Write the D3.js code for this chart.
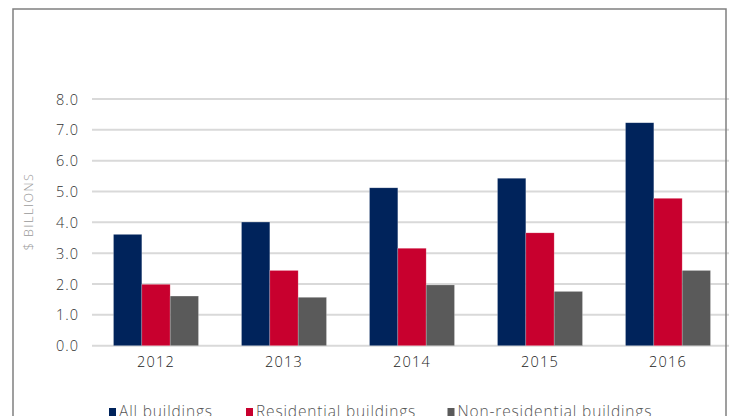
<!DOCTYPE html>
<html><head><meta charset="utf-8">
<script src="https://cdn.jsdelivr.net/npm/d3@7"></script>
<style>html,body{margin:0;padding:0;background:#fff;overflow:hidden}</style>
</head><body>
<svg id="c" width="729" height="416"></svg>
<script>
const years = ["2012","2013","2014","2015","2016"];
const seriesNames = ["All buildings","Residential buildings","Non-residential buildings"];
const allBuildings = [3.61, 4.01, 5.12, 5.43, 7.23];
const residential = [1.99, 2.44, 3.16, 3.66, 4.78];
const nonResidential = [1.61, 1.57, 1.97, 1.76, 2.44];
const yTicks = [0,1,2,3,4,5,6,7,8];
const colors = ["#00235b", "#c8002e", "#5a5a5a"];

const values = [allBuildings, residential, nonResidential];
const font = "'Open Sans', Lato, sans-serif";
const svg = d3.select("#c");

const x0 = d3.scaleBand().domain(years).range([92, 732]).paddingInner(43/128).paddingOuter(43/256);
const x1 = d3.scaleBand().domain(seriesNames).range([0, x0.bandwidth()]);
const y = d3.scaleLinear().domain([0, 8]).range([345.7, 99]);

// gridlines
svg.append("g").selectAll("line").data(yTicks).join("line")
  .attr("x1", 92).attr("x2", 729)
  .attr("y1", d => y(d)).attr("y2", d => y(d))
  .attr("stroke", "#d9d9d9").attr("stroke-width", 2);

// y axis labels
const yAxis = d3.axisLeft(y).tickValues(yTicks).tickFormat(d3.format(".1f")).tickSize(0).tickPadding(0);
const gy = svg.append("g").attr("transform", "translate(79,0)").call(yAxis);
gy.select(".domain").remove();
gy.selectAll("text").attr("font-family", font).attr("font-weight", 300).attr("font-size", 14.5)
  .attr("letter-spacing", 1).attr("fill", "#333").attr("dy", "0.35em");

// bars
const groups = svg.append("g").selectAll("g").data(years).join("g")
  .attr("transform", d => `translate(${x0(d)},0)`);
groups.selectAll("rect").data((d, i) => seriesNames.map((s, j) => ({s, v: values[j][i], j})))
  .join("rect")
  .attr("x", d => x1(d.s)).attr("width", x1.bandwidth())
  .attr("y", d => y(d.v)).attr("height", d => y(0) - y(d.v))
  .attr("fill", d => colors[d.j])
  .attr("stroke", "rgba(255,255,255,0.35)").attr("stroke-width", 0.6);

// x axis labels
const xAxis = d3.axisBottom(x0).tickSize(0).tickPadding(0);
const gx = svg.append("g").attr("transform", "translate(0,356.5)").call(xAxis);
gx.select(".domain").remove();
gx.selectAll("text").attr("font-family", font).attr("font-weight", 300).attr("font-size", 14.5)
  .attr("letter-spacing", 1.2).attr("fill", "#222").attr("dy", "0.71em");

// y axis title
svg.append("text").attr("transform", "translate(33,211.5) rotate(-90)")
  .attr("text-anchor", "middle").attr("font-family", font).attr("font-weight", 300).attr("font-size", 12.5)
  .attr("letter-spacing", 1.5).attr("fill", "#999").text("$ BILLIONS");

// legend
const legendX = [109, 246, 447.5];
const lg = svg.append("g").selectAll("g").data(seriesNames).join("g")
  .attr("transform", (d, i) => `translate(${legendX[i]},0)`);
lg.append("rect").attr("x", 0).attr("y", 408).attr("width", 7).attr("height", 8)
  .attr("fill", (d, i) => colors[i]);
lg.append("text").attr("x", 10).attr("y", 417).attr("font-family", font).attr("font-weight", 300).attr("font-size", 15.5)
  .attr("letter-spacing", 0.85).attr("fill", "#555").text(d => d);

// border
svg.append("path").attr("d", "M13,416 L13,9 L726,9 L726,416")
  .attr("fill", "none").attr("stroke", "#808080").attr("stroke-width", 1.5);
</script>
</body></html>
